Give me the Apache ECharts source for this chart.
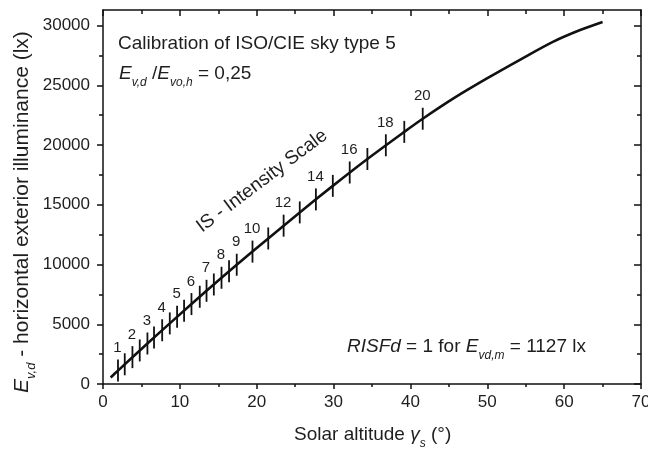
<!DOCTYPE html>
<html>
<head>
<meta charset="utf-8">
<script src="https://cdn.jsdelivr.net/npm/echarts@6/dist/echarts.min.js"></script>
<style>html,body{margin:0;padding:0;background:#fff}#c{width:648px;height:455px}</style>
</head>
<body>
<div id="c"></div>
<script>
// ---- data ----
var curveAltitude     = [1.0, 1.95, 5.78, 9.64, 13.47, 17.4, 21.5, 25.6, 29.9, 34.4, 39.2, 41.6, 45.6, 49.9, 54.3, 58.6, 62.0, 65.0];
var curveIlluminance  = [550, 1120, 3390, 5620, 7800, 9980, 12180, 14360, 16580, 18830, 21100, 22200, 23900, 25550, 27150, 28650, 29600, 30300];

var isValues       = [1, 1.5, 2, 2.5, 3, 3.5, 4, 4.5, 5, 5.5, 6, 6.5, 7, 7.5, 8, 8.5, 9, 10, 11, 12, 13, 14, 15, 16, 17, 18, 19, 20];
var isAltitude     = [1.95, 2.83, 3.83, 4.78, 5.78, 6.64, 7.70, 8.69, 9.64, 10.55, 11.51, 12.59, 13.47, 14.42, 15.42, 16.4, 17.4, 19.45, 21.5, 23.5, 25.6, 27.7, 29.9, 32.1, 34.4, 36.8, 39.2, 41.6];
var isIlluminance  = [1120, 1650, 2250, 2810, 3390, 3890, 4500, 5070, 5620, 6140, 6690, 7300, 7800, 8330, 8890, 9430, 9980, 11080, 12180, 13250, 14360, 15450, 16580, 17700, 18830, 19980, 21100, 22200];
var isLabelled     = [1, 2, 3, 4, 5, 6, 7, 8, 9, 10, 12, 14, 16, 18, 20];

var xTicks      = [0, 10, 20, 30, 40, 50, 60, 70];
var yTicks      = [0, 5000, 10000, 15000, 20000, 25000, 30000];
var yMinorTicks = [2500, 7500, 12500, 17500, 22500, 27500];

// ---- style ----
var FONT = '"Liberation Sans", Arial, Helvetica, sans-serif';
var INK = '#111';
var TXT = '#1e1e1e';

var chart = echarts.init(document.getElementById('c'), null, {renderer: 'canvas'});
var ctx = document.createElement('canvas').getContext('2d');

function runGroup(x, y, rot, parts) {
  var cx = 0, kids = [];
  parts.forEach(function (p) {
    var fs = p.size;
    var st = p.italic ? 'italic' : 'normal';
    ctx.font = st + ' ' + fs + 'px ' + FONT;
    var w = ctx.measureText(p.text).width;
    kids.push({
      type: 'text', x: cx, y: (p.dy || 0) - 0.3465 * fs, silent: true,
      style: {text: p.text, fontSize: fs, fontFamily: FONT, fontStyle: st, fill: TXT, align: 'left', verticalAlign: 'middle'}
    });
    cx += w;
  });
  return {type: 'group', x: x, y: y, rotation: rot, children: kids};
}

var curveData = curveAltitude.map(function (a, i) { return [a, curveIlluminance[i]]; });
var isData = isAltitude.map(function (a, i) { return [a, isIlluminance[i], isValues[i]]; });

var axisLine = {show: true, onZero: false, lineStyle: {color: INK, width: 1.5}};
var noLine = {show: false, onZero: false};
var lblStyle = {color: TXT, fontSize: 17, fontFamily: FONT, formatter: function (v) { return String(v); }};

var option = {
  animation: false,
  backgroundColor: '#fff',
  grid: {left: 103, right: 7, top: 10, bottom: 71, containLabel: false, outerBoundsMode: 'none'},
  xAxis: [
    {type: 'value', position: 'bottom', min: 0, max: 70, interval: 10,
     axisLine: axisLine,
     axisTick: {show: true, inside: false, length: 5, lineStyle: {color: INK, width: 1.5}},
     minorTick: {show: true, splitNumber: 2, length: 3, lineStyle: {color: INK, width: 1.5}},
     axisLabel: Object.assign({margin: 10, customValues: xTicks}, lblStyle),
     splitLine: {show: false}},
    {type: 'value', position: 'top', min: 0, max: 70, interval: 10,
     axisLine: axisLine,
     axisTick: {show: true, inside: true, length: 6, lineStyle: {color: INK, width: 1.5}},
     minorTick: {show: true, splitNumber: 2, length: 4, lineStyle: {color: INK, width: 1.5}},
     axisLabel: {show: false}, splitLine: {show: false}}
  ],
  yAxis: [
    {type: 'value', position: 'left', min: 0, max: 31300,
     axisLine: axisLine,
     axisTick: {show: true, inside: false, length: 6, customValues: yTicks, lineStyle: {color: INK, width: 1.5}},
     axisLabel: Object.assign({margin: 13, customValues: yTicks}, lblStyle),
     splitLine: {show: false}},
    {type: 'value', position: 'right', min: 0, max: 31300,
     axisLine: axisLine,
     axisTick: {show: true, inside: true, length: 7, customValues: yTicks, lineStyle: {color: INK, width: 1.5}},
     axisLabel: {show: false}, splitLine: {show: false}},
    {type: 'value', position: 'left', min: 0, max: 31300,
     axisLine: noLine,
     axisTick: {show: true, inside: false, length: 4, customValues: yMinorTicks, lineStyle: {color: INK, width: 1.5}},
     axisLabel: {show: false}, splitLine: {show: false}},
    {type: 'value', position: 'right', min: 0, max: 31300,
     axisLine: noLine,
     axisTick: {show: true, inside: true, length: 4, customValues: yMinorTicks, lineStyle: {color: INK, width: 1.5}},
     axisLabel: {show: false}, splitLine: {show: false}}
  ],
  series: [
    {type: 'line', xAxisIndex: 0, yAxisIndex: 0, data: curveData, smooth: 0.3, showSymbol: false, symbol: 'none',
     lineStyle: {color: INK, width: 2.6}, z: 3},
    {type: 'custom', xAxisIndex: 0, yAxisIndex: 0, data: isData, z: 4,
     renderItem: function (params, api) {
       var p = api.coord([api.value(0), api.value(1)]);
       var v = api.value(2);
       var kids = [{type: 'line', shape: {x1: p[0], y1: p[1] - 11, x2: p[0], y2: p[1] + 11},
                    style: {stroke: INK, lineWidth: 1.8}}];
       if (isLabelled.indexOf(v) >= 0) {
         kids.push({type: 'text', x: p[0] - 0.5, y: p[1] - 11 - 4,
                    style: {text: String(v), fontSize: 15, fontFamily: FONT, fill: TXT, align: 'center', verticalAlign: 'bottom'}});
       }
       return {type: 'group', children: kids};
     }}
  ],
  graphic: [
    runGroup(118, 50.7, 0, [{text: 'Calibration of ISO/CIE sky type 5', size: 19}]),
    runGroup(119, 80.7, 0, [
      {text: 'E', size: 19, italic: true},
      {text: 'v,d', size: 12, italic: true, dy: 6.5},
      {text: ' /', size: 19},
      {text: 'E', size: 19, italic: true},
      {text: 'vo,h', size: 12, italic: true, dy: 6.5},
      {text: ' = 0,25', size: 19}
    ]),
    runGroup(347, 353, 0, [
      {text: 'RISFd', size: 19, italic: true},
      {text: ' = 1 for ', size: 19},
      {text: 'E', size: 19, italic: true},
      {text: 'vd,m', size: 12, italic: true, dy: 6.5},
      {text: ' = 1127 lx', size: 19}
    ]),
    runGroup(294, 441.7, 0, [
      {text: 'Solar altitude ', size: 19},
      {text: 'γ', size: 19, italic: true},
      {text: 's', size: 12, italic: true, dy: 6.5},
      {text: ' (°)', size: 19}
    ]),
    runGroup(29, 393, Math.PI / 2, [
      {text: 'E', size: 21, italic: true},
      {text: 'v,d', size: 13, italic: true, dy: 7},
      {text: ' - horizontal exterior illuminance (lx)', size: 21}
    ]),
    {type: 'text', x: 262, y: 181, rotation: 37 * Math.PI / 180, silent: true,
     style: {text: 'IS - Intensity Scale', fontSize: 19, fontFamily: FONT, fill: TXT, align: 'center', verticalAlign: 'middle'}}
  ]
};
chart.setOption(option);
</script>
</body>
</html>
